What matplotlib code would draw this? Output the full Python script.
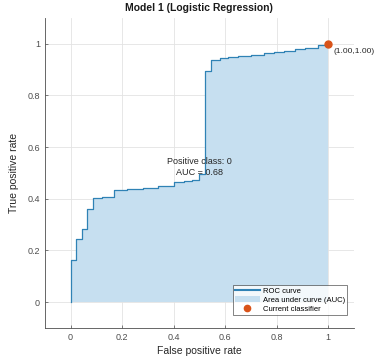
import matplotlib
matplotlib.use("Agg")
import matplotlib.pyplot as plt
from matplotlib.patches import Patch
from matplotlib.lines import Line2D

# ROC curve vertices (false positive rate, true positive rate), drawn as steps
fpr = [0.0, 0.0, 0.022, 0.044, 0.065, 0.087, 0.12, 0.15, 0.168, 0.22, 0.28,
       0.34, 0.40, 0.44, 0.47, 0.50, 0.522, 0.543, 0.58, 0.61, 0.65, 0.70,
       0.75, 0.79, 0.83, 0.87, 0.91, 0.94, 0.962, 1.0]
tpr = [0.0, 0.165, 0.243, 0.282, 0.36, 0.404, 0.406, 0.408, 0.434, 0.438,
       0.443, 0.448, 0.464, 0.468, 0.472, 0.496, 0.893, 0.938, 0.944, 0.948,
       0.952, 0.957, 0.963, 0.970, 0.974, 0.979, 0.982, 0.985, 0.997, 1.0]
current_point = (1.0, 1.0)
auc = 0.68
positive_class = 0
ticks = [0, 0.2, 0.4, 0.6, 0.8, 1]
tick_labels = ["0", "0.2", "0.4", "0.6", "0.8", "1"]

line_color = "#2f82b5"
area_color = "#c6dff0"
point_color = "#d95319"
text_color = "#262626"

plt.rcParams["font.family"] = ["Liberation Sans", "DejaVu Sans"]

fig = plt.figure(figsize=(3.77, 3.6), dpi=100)
ax = fig.add_axes([0.119, 0.089, 0.820, 0.861])

ax.fill_between(fpr, tpr, 0, step="post", color=area_color, linewidth=0)
ax.plot(fpr, tpr, drawstyle="steps-post", color=line_color, linewidth=0.9)
ax.plot(*current_point, "o", color=point_color, markersize=5)
ax.text(current_point[0] + 0.022, current_point[1] - 0.03,
        "(%.2f,%.2f)" % current_point, fontsize=6, color=text_color,
        va="center", ha="left")

ax.text(0.5, 0.544, "Positive class: %d" % positive_class, fontsize=6.5,
        color=text_color, ha="center", va="center")
ax.text(0.5, 0.50, "AUC = %.2f" % auc, fontsize=6.5, color=text_color,
        ha="center", va="center")

ax.set_xlim(-0.1, 1.1)
ax.set_ylim(-0.1, 1.1)
ax.set_xticks(ticks)
ax.set_xticklabels(tick_labels)
ax.set_yticks(ticks)
ax.set_yticklabels(tick_labels)
ax.tick_params(direction="in", labelsize=6.5, colors="#4d4d4d", length=2.5,
               width=0.5)
for side in ["top", "right"]:
    ax.spines[side].set_visible(False)
for side in ["left", "bottom"]:
    ax.spines[side].set_color("#4d4d4d")
    ax.spines[side].set_linewidth(0.6)
ax.grid(color="#e3e3e3", linewidth=0.6)
ax.set_axisbelow(True)

ax.set_xlabel("False positive rate", fontsize=7.5, color=text_color,
              labelpad=3)
ax.set_ylabel("True positive rate", fontsize=7.5, color=text_color,
              labelpad=6)
ax.set_title("Model 1 (Logistic Regression)", fontsize=7.5, fontweight="bold",
             color="#1a1a1a", pad=5)

handles = [
    Line2D([], [], color=line_color, linewidth=1.5),
    Patch(facecolor=area_color, edgecolor="none"),
    Line2D([], [], marker="o", color=point_color, linestyle="none",
           markersize=4.5),
]
labels = ["ROC curve", "Area under curve (AUC)", "Current classifier"]
leg = ax.legend(handles, labels, loc="lower right", fontsize=5.5,
                frameon=True, fancybox=False, edgecolor="#262626",
                borderpad=0.3, labelspacing=0.2, handlelength=3.2,
                handletextpad=0.4, bbox_to_anchor=(0.99, 0.03))
leg.get_frame().set_linewidth(0.5)

fig.savefig("out.png", dpi=100)
plt.close(fig)
